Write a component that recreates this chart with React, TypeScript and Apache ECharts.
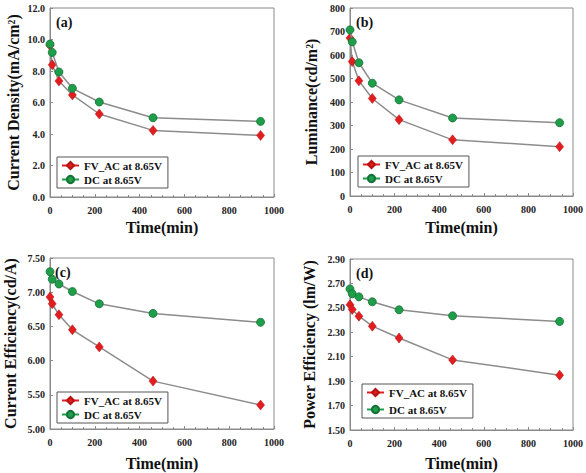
import React, { useEffect, useRef } from "react";
import * as echarts from "echarts";

const times = [0, 10, 40, 100, 220, 460, 940];

const cdFV = [9.62, 8.39, 7.37, 6.48, 5.27, 4.23, 3.91];
const cdDC = [9.71, 9.18, 7.94, 6.9, 6.03, 5.03, 4.8];

const lumFV = [672, 572, 490, 415, 325, 239, 210];
const lumDC = [707, 656, 567, 480, 409, 332, 312];

const ceFV = [6.93, 6.83, 6.67, 6.45, 6.2, 5.7, 5.35];
const ceDC = [7.3, 7.19, 7.12, 7.01, 6.83, 6.69, 6.56];

const peFV = [2.525, 2.487, 2.432, 2.35, 2.253, 2.074, 1.949];
const peDC = [2.655, 2.615, 2.59, 2.55, 2.484, 2.435, 2.389];

const peTicks = [1.5, 1.7, 1.9, 2.1, 2.3, 2.5, 2.7, 2.9];

const nameFV = "FV_AC at 8.65V";
const nameDC = "DC at 8.65V";

const SERIF = '"Liberation Serif", "Times New Roman", serif';
const RED = "#e21d1f";
const GREEN = "#1f9e4a";
const BORDER = "#8a8a8a";

const grids = [
  { left: 50, top: 8, width: 224, height: 189 },
  { left: 350, top: 8, width: 226, height: 188 },
  { left: 50, top: 258, width: 224, height: 171 },
  { left: 350, top: 259, width: 226, height: 171 },
];

export default function App() {
  const ref = useRef<HTMLDivElement>(null);
  useEffect(() => {
    if (!ref.current) return;
    const chart = echarts.init(ref.current, undefined, { renderer: "svg" });

    const xAxis = (i: number, gap: number) => ({
      type: "value",
      gridIndex: i,
      min: 0,
      max: 1000,
      interval: 200,
      name: "Time(min)",
      nameLocation: "middle",
      nameGap: gap,
      nameTextStyle: { fontFamily: SERIF, fontWeight: "bold", fontSize: 16, color: "#111" },
      axisLine: { show: true, lineStyle: { color: BORDER } },
      axisTick: { show: true, inside: true, length: 3, lineStyle: { color: BORDER } },
      minorTick: { show: true, splitNumber: 4, length: 2, lineStyle: { color: BORDER } },
      splitLine: { show: false },
      axisLabel: {
        fontFamily: SERIF,
        fontWeight: "bold",
        fontSize: 10,
        color: "#222",
        margin: 8,
        formatter: (v: number) => String(v),
      },
    });

    const yAxis = (i: number, name: string, min: number, max: number, interval: number, dec: number, gap: number, custom?: number[]) => ({
      type: "value",
      gridIndex: i,
      min,
      max,
      interval,
      name,
      nameLocation: "middle",
      nameGap: gap,
      nameTextStyle: { fontFamily: SERIF, fontWeight: "bold", fontSize: 16, color: "#111" },
      axisLine: { show: true, lineStyle: { color: BORDER } },
      axisTick: custom
        ? { show: true, inside: true, length: 3, lineStyle: { color: BORDER }, customValues: custom }
        : { show: true, inside: true, length: 3, lineStyle: { color: BORDER } },
      splitLine: { show: false },
      axisLabel: custom
        ? { fontFamily: SERIF, fontWeight: "bold", fontSize: 10, color: "#222", margin: 5, customValues: custom, formatter: (v: number) => v.toFixed(dec) }
        : { fontFamily: SERIF, fontWeight: "bold", fontSize: 10, color: "#222", margin: 5, formatter: (v: number) => v.toFixed(dec) },
    });

    const mk = (x: number[], y: number[]) => x.map((t, k) => [t, y[k]]);

    const seriesPair = (i: number, fv: number[], dc: number[]) => [
      {
        type: "line",
        name: nameFV,
        xAxisIndex: i,
        yAxisIndex: i,
        data: mk(times, fv),
        symbol: "diamond",
        symbolSize: [8, 10],
        lineStyle: { color: "#8c8c8c", width: 1.5 },
        itemStyle: { color: RED, borderColor: "#b51212", borderWidth: 0.5 },
        z: 2,
      },
      {
        type: "line",
        name: nameDC,
        xAxisIndex: i,
        yAxisIndex: i,
        data: mk(times, dc),
        symbol: "circle",
        symbolSize: 8,
        lineStyle: { color: "#8c8c8c", width: 1.5 },
        itemStyle: { color: GREEN, borderColor: "#137036", borderWidth: 0.8 },
        z: 3,
      },
    ];

    const legend = (left: number, top: number, gap: number) => ({
      orient: "vertical",
      left,
      top,
      padding: [3, 6, 3, 4],
      itemGap: gap,
      itemWidth: 17,
      itemHeight: 9,
      borderColor: "#555",
      borderWidth: 1,
      backgroundColor: "#fff",
      textStyle: { fontFamily: SERIF, fontWeight: "bold", fontSize: 11, color: "#111" },
      data: [
        { name: nameFV, lineStyle: { color: RED } },
        { name: nameDC, lineStyle: { color: GREEN } },
      ],
    });

    const label = (text: string, left: number, top: number) => ({
      type: "text",
      left,
      top,
      style: { text, font: `bold 14px ${SERIF}`, fill: "#111" },
    });

    chart.setOption({
      animation: false,
      backgroundColor: "#fff",
      grid: grids.map((g) => ({ ...g, show: true, borderColor: BORDER, borderWidth: 1, backgroundColor: "transparent" })),
      xAxis: [xAxis(0, 22), xAxis(1, 23), xAxis(2, 26), xAxis(3, 25)],
      yAxis: [
        yAxis(0, "Current Density(mA/cm²)", 0, 12, 2, 1, 29),
        yAxis(1, "Luminance(cd/m²)", 0, 800, 100, 0, 31),
        yAxis(2, "Current Efficiency(cd/A)", 5, 7.5, 0.5, 2, 32),
        yAxis(3, "Power Efficiency (lm/W)", 1.5, 2.9, 0.2, 2, 33, peTicks),
      ],
      legend: [legend(57, 157, 3), legend(358, 156, 3), legend(57, 392, 3), legend(362, 384, 6)],
      series: [
        ...seriesPair(0, cdFV, cdDC),
        ...seriesPair(1, lumFV, lumDC),
        ...seriesPair(2, ceFV, ceDC),
        ...seriesPair(3, peFV, peDC),
      ],
      graphic: [label("(a)", 56, 15), label("(b)", 356, 15), label("(c)", 55, 265), label("(d)", 356, 266)],
    });
    return () => chart.dispose();
  }, []);
  return (
    <div
      ref={ref}
      style={{ position: "fixed", left: 0, top: 0, width: 586, height: 473, background: "#fff" }}
    />
  );
}
